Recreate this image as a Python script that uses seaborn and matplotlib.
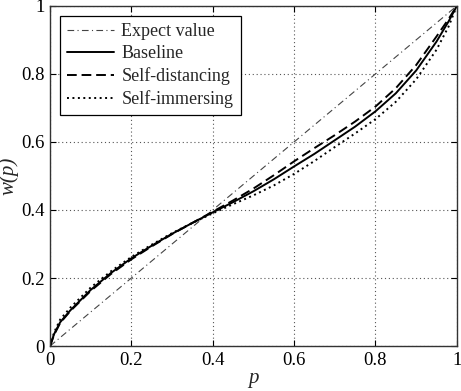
import numpy as np
import matplotlib
matplotlib.use("Agg")
import matplotlib.pyplot as plt
import pandas as pd
import seaborn as sns

# values
p = [0, 0.01, 0.025, 0.05, 0.1, 0.15, 0.2, 0.25, 0.3, 0.35, 0.4, 0.45,
     0.5, 0.55, 0.6, 0.65, 0.7, 0.75, 0.8, 0.85, 0.9, 0.95, 0.98, 1.0]
expect = [0, 1]
baseline = [0, 0.035, 0.07, 0.105, 0.165, 0.215, 0.258, 0.295, 0.33, 0.362,
            0.393, 0.423, 0.455, 0.49, 0.528, 0.565, 0.605, 0.645, 0.69, 0.743,
            0.81, 0.895, 0.955, 1.0]
distancing = [0, 0.033, 0.068, 0.103, 0.162, 0.212, 0.255, 0.293, 0.329, 0.362,
              0.395, 0.428, 0.463, 0.502, 0.543, 0.582, 0.62, 0.66, 0.704,
              0.758, 0.826, 0.91, 0.962, 1.0]
immersing = [0, 0.04, 0.078, 0.113, 0.172, 0.22, 0.262, 0.298, 0.332, 0.362,
             0.39, 0.417, 0.443, 0.472, 0.506, 0.544, 0.585, 0.625, 0.667,
             0.718, 0.784, 0.871, 0.94, 1.0]
ticks = [0, 0.2, 0.4, 0.6, 0.8, 1]

sns.set_style("ticks")
plt.rcParams['font.family'] = ['Liberation Serif', 'DejaVu Serif']
plt.rcParams['xtick.direction'] = 'in'
plt.rcParams['ytick.direction'] = 'in'

fig = plt.figure(figsize=(4.61, 3.91), dpi=100)
ax = fig.add_axes([0.1085, 0.115, 0.8825, 0.87])

sns.lineplot(x=expect, y=expect, ax=ax, color='#444444', lw=0.8,
             linestyle=(0, (6, 3, 1, 3)), label='Expect value')
sns.lineplot(x=p, y=baseline, ax=ax, color='black', lw=1.4, label='Baseline')
sns.lineplot(x=p, y=distancing, ax=ax, color='black', lw=1.4,
             linestyle=(0, (5, 2.5)), label='Self-distancing')
sns.lineplot(x=p, y=immersing, ax=ax, color='black', lw=1.4,
             linestyle=(0, (1, 1.8)), label='Self-immersing')

ax.set_xlim(0, 1)
ax.set_ylim(0, 1)
ax.set_xticks(ticks)
ax.set_yticks(ticks)
ax.set_xticklabels(['0', '0.2', '0.4', '0.6', '0.8', '1'])
ax.set_yticklabels(['0', '0.2', '0.4', '0.6', '0.8', '1'])
ax.tick_params(labelsize=13.5, length=4, width=0.8, top=True, right=True,
               colors='black', pad=4)
ax.grid(True, linestyle=(0, (1, 2.5)), color='#555555', lw=0.8)

for s in ax.spines.values():
    s.set_visible(True)
    s.set_color('#333333')
    s.set_linewidth(1.0)

ax.set_xlabel('p', fontsize=15, style='italic', labelpad=0)
ax.set_ylabel('w(p)', fontsize=15, style='italic', labelpad=2)

leg = ax.legend(loc='upper left', fontsize=13, frameon=True, fancybox=False,
                edgecolor='black', framealpha=1, handlelength=2.6,
                borderaxespad=0.55, labelspacing=0.28, handletextpad=0.4,
                borderpad=0.4)
leg.get_frame().set_linewidth(0.9)

plt.savefig('out.png', dpi=100)
